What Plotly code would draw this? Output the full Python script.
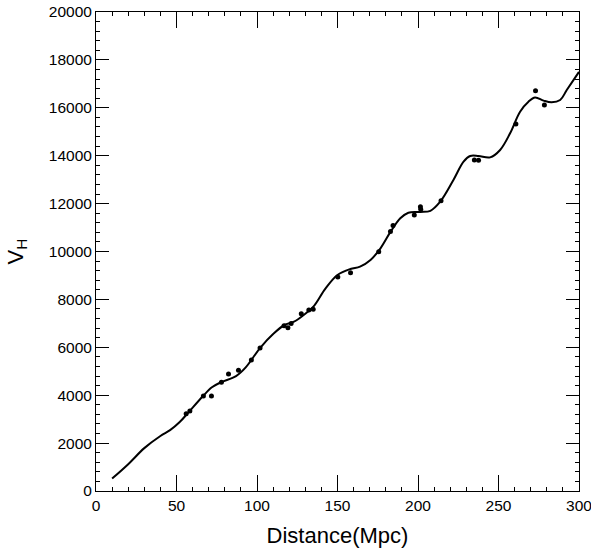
import plotly.graph_objects as go

obs_distance = [56.0, 58.3, 66.7, 71.7, 77.9, 82.3, 88.5, 96.5, 101.9, 116.8,
                119.2, 121.2, 127.5, 132.2, 134.9, 150.2, 158.1, 175.6, 182.9, 184.5,
                197.7, 201.5, 201.7, 214.3, 235.0, 237.6, 260.8, 273.0, 278.5]
obs_velocity = [3230, 3340, 3967, 3967, 4538, 4885, 5040, 5470, 5970, 6900,
                6820, 6990, 7400, 7560, 7590, 8935, 9115, 9990, 10830, 11090,
                11520, 11870, 11760, 12120, 13820, 13810, 15320, 16710, 16120]

# Fitted curve
fit_distance = [10, 20, 30, 40, 46, 52, 57, 66.5, 72, 77.5, 87, 93, 102, 110.5, 117, 123,
                129, 135, 142.6, 150, 158, 164, 170.5, 176.7, 183, 189, 194, 201.5,
                207.7, 213.8, 222, 228.3, 232.4, 237.6, 244.8, 251, 257.2, 263.4,
                268.6, 272.7, 278, 283, 288.3, 292.4, 300]
fit_velocity = [520, 1120, 1790, 2296, 2540, 2880, 3250, 3967, 4330, 4537, 4800, 5163, 5980,
                6584, 6931, 7070, 7349, 7696, 8463, 9019, 9269, 9366, 9645, 10133,
                10828, 11386, 11620, 11650, 11700, 12080, 12985, 13750, 13987, 13987,
                13930, 14238, 14935, 15837, 16255, 16430, 16300, 16230, 16326, 16743,
                17500]

x_ticks = [0, 50, 100, 150, 200, 250, 300]
y_ticks = [0, 2000, 4000, 6000, 8000, 10000, 12000, 14000, 16000, 18000, 20000]

fig = go.Figure()
fig.add_trace(go.Scatter(x=fit_distance, y=fit_velocity, mode="lines",
                         line=dict(color="black", width=2, shape="spline", smoothing=1.0),
                         showlegend=False, hoverinfo="skip"))
fig.add_trace(go.Scatter(x=obs_distance, y=obs_velocity, mode="markers",
                         marker=dict(color="black", size=5),
                         showlegend=False))

font = "Liberation Sans, Arial, sans-serif"
fig.update_layout(
    width=591, height=555,
    margin=dict(l=96, r=12, t=12, b=64),
    paper_bgcolor="white", plot_bgcolor="white",
    font=dict(family=font, color="black", size=15),
)
fig.update_xaxes(
    range=[0, 300], tickvals=x_ticks, ticktext=[str(v) for v in x_ticks],
    ticks="inside", ticklen=16, tickwidth=1.2, tickcolor="black",
    showline=True, linecolor="black", linewidth=1, mirror="ticks",
    showgrid=False, zeroline=False, automargin=False, ticklabeloverflow="allow",
    minor=dict(ticks="inside", ticklen=4, dtick=10, tick0=0, tickcolor="black", tickwidth=1, showgrid=False),
    tickfont=dict(size=15.5),
    title=dict(text="Distance(Mpc)", font=dict(size=22), standoff=15),
)
fig.update_yaxes(
    range=[0, 20000], tickvals=y_ticks, ticktext=[str(v) for v in y_ticks],
    ticks="inside", ticklen=13, tickwidth=1.2, tickcolor="black",
    showline=True, linecolor="black", linewidth=1, mirror="ticks",
    showgrid=False, zeroline=False, automargin=False, ticklabeloverflow="allow",
    minor=dict(ticks="inside", ticklen=4, dtick=400, tick0=0, tickcolor="black", tickwidth=1, showgrid=False),
    tickfont=dict(size=15.5),
    title=dict(text="V<sub>H</sub>", font=dict(size=22), standoff=19),
)

fig.write_html(
    "out.html",
    config={"displayModeBar": False},
    post_script="document.body.style.margin='0px';document.body.style.overflow='hidden';"
                "document.documentElement.style.overflow='hidden';",
)
